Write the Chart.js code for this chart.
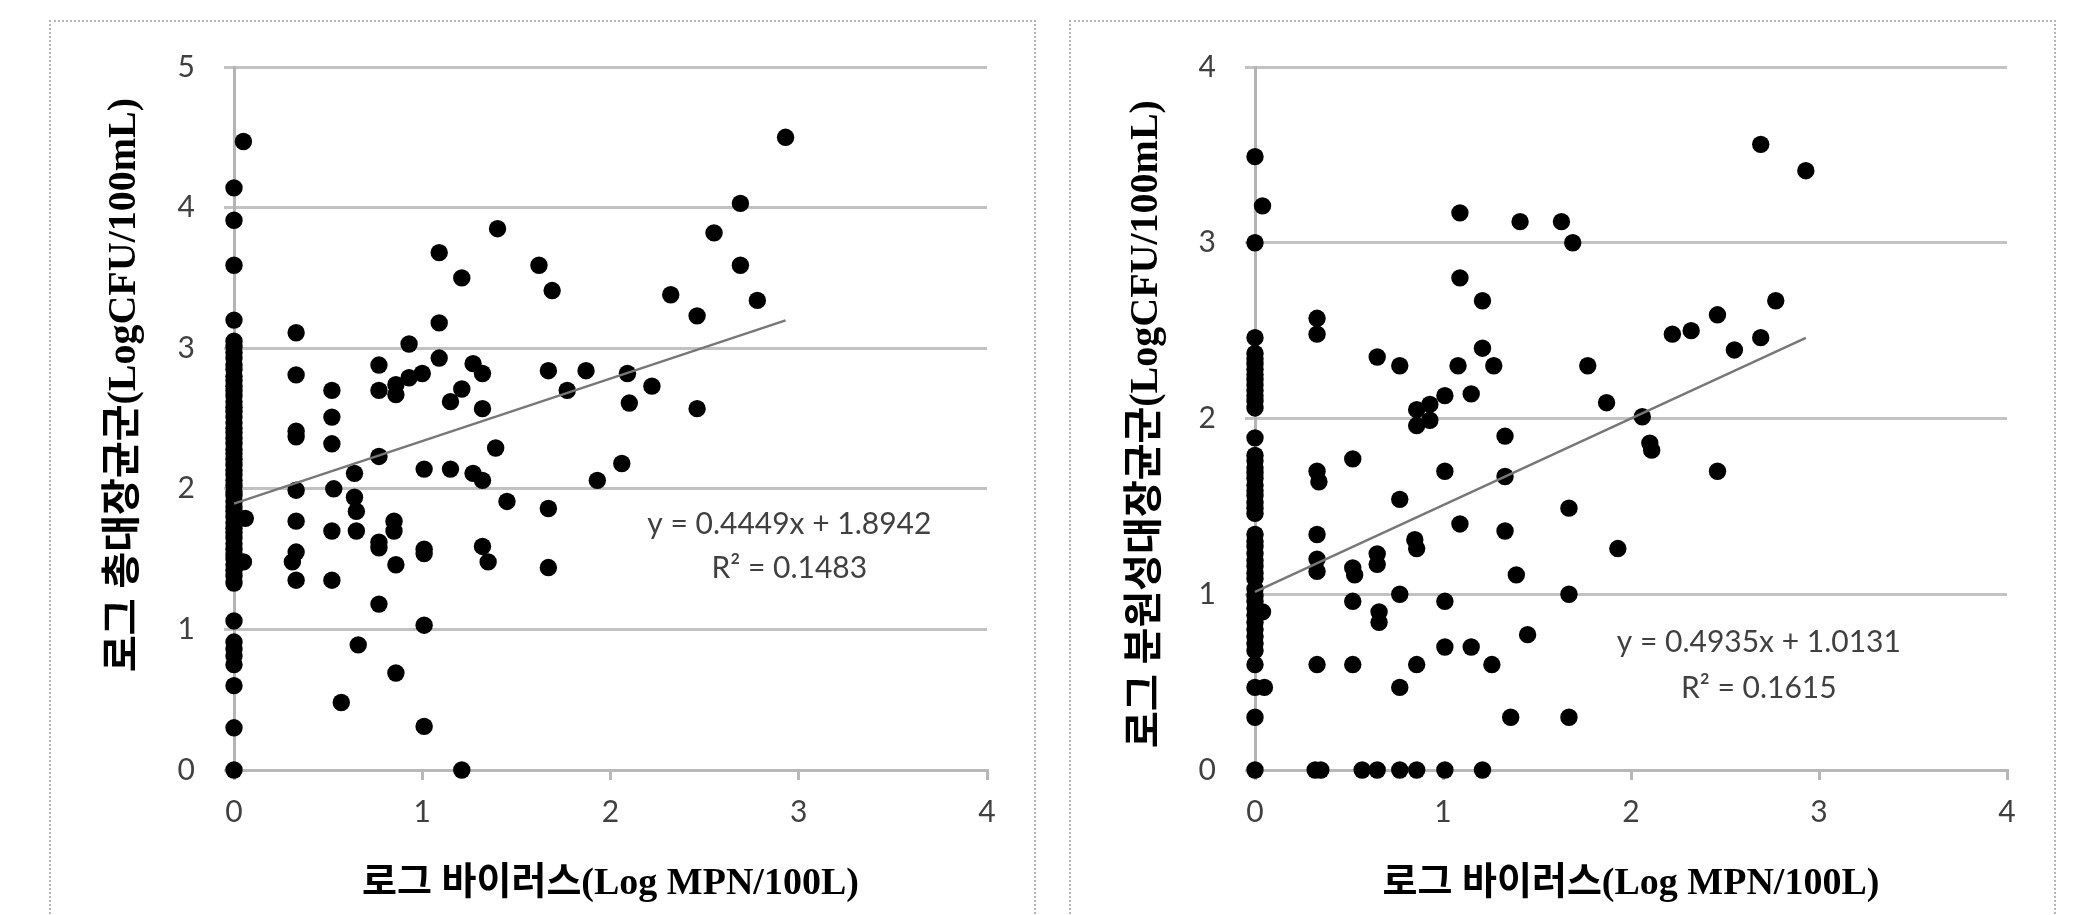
<!DOCTYPE html>
<html>
<head>
<meta charset="utf-8">
<script src="https://cdn.jsdelivr.net/npm/chart.js@4.4.1/dist/chart.umd.min.js"></script>
<style>
  html, body { margin: 0; padding: 0; background: #fff; width: 2082px; height: 915px; overflow: hidden; }
  .frame { position: absolute; top: 20px; width: 987px; height: 930px; border: 2px dotted #b4b4b4; box-sizing: border-box; }
  canvas { position: absolute; top: 20px; }
</style>
</head>
<body>
<div class="frame" style="left:49px"></div>
<div class="frame" style="left:1069px"></div>
<canvas id="totalChart" width="987" height="895" style="left:49px"></canvas>
<canvas id="fecalChart" width="987" height="895" style="left:1069px"></canvas>
<script>
// tick labels
const xTickLabels = ['0', '1', '2', '3', '4'];
const totalYTickLabels = ['0', '1', '2', '3', '4', '5'];
const fecalYTickLabels = ['0', '1', '2', '3', '4'];

// titles
const xTitle = '로그 바이러스(Log MPN/100L)';
const totalYTitle = '로그 총대장균군(LogCFU/100mL)';
const fecalYTitle = '로그 분원성대장균군(LogCFU/100mL)';

// trendlines: [slope, intercept]
const totalFit = [0.4449, 1.8942];
const fecalFit = [0.4935, 1.0131];
const totalFitText = ['y = 0.4449x + 1.8942', 'R² = 0.1483'];
const fecalFitText = ['y = 0.4935x + 1.0131', 'R² = 0.1615'];

// [log virus, log total coliform]
const totalPoints = [
  [0,4.14],[0,3.91],[0,3.59],[0,3.20],[0,3.05],[0,3.01],[0,2.97],[0,2.93],[0,2.88],[0,2.85],
  [0,2.80],[0,2.77],[0,2.73],[0,2.70],[0,2.66],[0,2.62],[0,2.58],[0,2.55],[0,2.51],[0,2.47],
  [0,2.43],[0,2.40],[0,2.36],[0,2.32],[0,2.28],[0,2.25],[0,2.21],[0,2.17],[0,2.13],[0,2.10],
  [0,2.06],[0,2.02],[0,1.98],[0,1.95],[0,1.91],[0,1.87],[0,1.84],[0,1.80],[0,1.76],[0,1.72],
  [0,1.69],[0,1.65],[0,1.61],[0,1.57],[0,1.53],[0,1.50],[0,1.46],[0,1.42],[0,1.38],[0,1.33],
  [0,1.06],[0,0.91],[0,0.86],[0,0.81],[0,0.75],[0,0.60],[0,0.30],[0,0],
  [0.05,4.47],[0.06,1.79],[0.05,1.48],
  [0.33,3.11],[0.33,2.81],[0.33,2.41],[0.33,2.37],[0.33,1.99],[0.33,1.77],[0.33,1.55],[0.31,1.48],[0.33,1.35],
  [0.52,2.70],[0.52,2.51],[0.52,2.32],[0.53,2.00],[0.52,1.70],[0.52,1.35],
  [0.57,0.48],
  [0.64,2.11],[0.64,1.94],[0.65,1.84],[0.65,1.70],[0.66,0.89],
  [0.77,2.88],[0.77,2.70],[0.77,2.23],[0.77,1.62],[0.77,1.58],[0.77,1.18],
  [0.86,2.74],[0.86,2.67],[0.85,1.77],[0.85,1.70],[0.86,1.46],[0.86,0.69],
  [0.93,3.03],[0.93,2.79],
  [1.00,2.82],[1.01,2.14],[1.01,1.57],[1.01,1.54],[1.01,1.03],[1.01,0.31],
  [1.09,3.68],[1.09,3.18],[1.09,2.93],
  [1.15,2.62],[1.15,2.14],
  [1.21,3.50],[1.21,2.71],[1.21,0],
  [1.27,2.89],[1.27,2.11],[1.32,2.82],[1.32,2.57],[1.32,2.06],[1.32,1.59],[1.35,1.48],
  [1.40,3.85],[1.39,2.29],[1.45,1.91],
  [1.62,3.59],[1.69,3.41],[1.67,2.84],[1.67,1.86],[1.67,1.44],
  [1.77,2.70],[1.87,2.84],[1.93,2.06],
  [2.06,2.18],[2.09,2.82],[2.10,2.61],[2.22,2.73],[2.32,3.38],[2.46,3.23],[2.46,2.57],
  [2.55,3.82],[2.69,4.03],[2.69,3.59],[2.78,3.34],[2.93,4.50]
];

// [log virus, log fecal coliform]
const fecalPoints = [
  [0,3.49],[0,3.00],[0,2.46],[0,2.37],[0,2.34],[0,2.31],[0,2.28],[0,2.25],[0,2.22],[0,2.19],
  [0,2.16],[0,2.13],[0,2.10],[0,2.06],[0,1.89],[0,1.79],[0,1.76],[0,1.72],[0,1.69],[0,1.66],
  [0,1.62],[0,1.59],[0,1.56],[0,1.52],[0,1.49],[0,1.46],[0,1.34],[0,1.30],[0,1.27],[0,1.23],
  [0,1.19],[0,1.16],[0,1.12],[0,1.09],[0,1.03],[0,0.99],[0,0.96],[0,0.92],[0,0.88],[0,0.84],
  [0,0.80],[0,0.76],[0,0.72],[0,0.68],[0,0.60],[0,0.47],[0,0.30],[0,0],
  [0.04,3.21],[0.04,0.90],[0.05,0.47],
  [0.33,2.57],[0.33,2.48],[0.33,1.70],[0.34,1.64],[0.33,1.34],[0.33,1.20],[0.33,1.13],[0.33,0.60],[0.32,0],[0.35,0],
  [0.52,1.77],[0.52,1.15],[0.53,1.11],[0.52,0.96],[0.52,0.60],[0.57,0],
  [0.65,2.35],[0.65,1.23],[0.65,1.17],[0.66,0.90],[0.66,0.84],[0.65,0],
  [0.77,2.30],[0.77,1.54],[0.77,1.00],[0.77,0.47],[0.77,0],
  [0.86,2.05],[0.86,1.96],[0.93,2.08],[0.93,1.99],[0.85,1.31],[0.86,1.26],[0.86,0.60],[0.86,0],
  [1.01,2.13],[1.01,1.70],[1.01,0.96],[1.01,0.70],[1.01,0],
  [1.09,3.17],[1.09,2.80],[1.08,2.30],[1.09,1.40],
  [1.15,2.14],[1.15,0.70],
  [1.21,2.67],[1.21,2.40],[1.27,2.30],[1.26,0.60],[1.21,0],
  [1.33,1.90],[1.33,1.67],[1.33,1.36],[1.36,0.30],[1.39,1.11],[1.41,3.12],[1.45,0.77],
  [1.63,3.12],[1.69,3.00],[1.67,1.49],[1.67,1.00],[1.67,0.30],
  [1.77,2.30],[1.87,2.09],[1.93,1.26],
  [2.06,2.01],[2.10,1.86],[2.11,1.82],
  [2.22,2.48],[2.32,2.50],[2.46,2.59],[2.46,1.70],[2.55,2.39],[2.69,2.46],[2.69,3.56],[2.77,2.67],[2.93,3.41]
];

const tickFont = { family: 'Lato', size: 30 };
const tickColor = '#404040';

// equation, R² and axis titles are drawn here
function textPlugin(t) {
  return {
    id: 'chartText',
    afterDraw(chart) {
      const { ctx, chartArea, scales } = chart;
      ctx.save();
      ctx.textAlign = 'center';
      ctx.textBaseline = 'middle';

      ctx.fillStyle = '#404040';
      ctx.font = '30px Lato';
      const ex = scales.x.getPixelForValue(t.fitAt[0]);
      const ey = scales.y.getPixelForValue(t.fitAt[1]);
      t.fitText.forEach((s, i) => ctx.fillText(s, ex, ey + i * t.lineGap));

      ctx.fillStyle = '#000';
      ctx.font = 'bold 38px "Liberation Serif", "Noto Sans CJK KR"';
      ctx.fillText(xTitle, (chartArea.left + chartArea.right) / 2, t.xTitleY);

      ctx.translate(t.yTitleAt[0], t.yTitleAt[1]);
      ctx.rotate(-Math.PI / 2);
      ctx.font = 'bold 40px "Liberation Serif", "Noto Sans CJK KR"';
      ctx.fillText(t.yTitle, 0, 0);
      ctx.restore();
    }
  };
}

function makeChart(id, points, fit, yLabels, box, text) {
  const xEnd = Math.max(...points.map(p => p[0]));
  return new Chart(document.getElementById(id), {
    type: 'scatter',
    data: {
      datasets: [
        {
          type: 'line',
          data: [{ x: 0, y: fit[1] }, { x: xEnd, y: fit[0] * xEnd + fit[1] }],
          borderColor: '#777',
          borderWidth: 2.5,
          pointRadius: 0,
          order: 0,
          clip: false
        },
        {
          data: points.map(p => ({ x: p[0], y: p[1] })),
          backgroundColor: '#000',
          borderColor: '#000',
          pointRadius: 8.7,
          pointBorderWidth: 0,
          order: 1,
          clip: false
        }
      ]
    },
    options: {
      responsive: false,
      animation: false,
      devicePixelRatio: 1,
      layout: { padding: { top: box.top, right: box.right, left: 0, bottom: 0 } },
      plugins: { legend: { display: false }, tooltip: { enabled: false } },
      scales: {
        x: {
          type: 'linear',
          min: 0,
          max: 4,
          afterFit: s => { s.height = box.xAxisHeight; },
          ticks: { stepSize: 1, padding: 14, color: tickColor, font: tickFont, callback: v => xTickLabels[v] },
          grid: { drawOnChartArea: false, drawTicks: true, tickLength: 10, color: '#b8b8b8', lineWidth: 3 },
          border: { display: true, color: '#b8b8b8', width: 3 }
        },
        y: {
          min: 0,
          max: yLabels.length - 1,
          afterFit: s => { s.width = box.yAxisWidth; },
          ticks: { stepSize: 1, padding: 29, color: tickColor, font: tickFont, callback: v => yLabels[v] },
          grid: { color: '#c2c2c2', lineWidth: 3, tickLength: 10 },
          border: { display: true, color: '#b4b4b4', width: 3 }
        }
      }
    },
    plugins: [textPlugin(text)]
  });
}

makeChart('totalChart', totalPoints, totalFit, totalYTickLabels,
  { top: 45, right: 49, yAxisWidth: 185, xAxisHeight: 145 },
  { fitText: totalFitText, fitAt: [2.95, 1.745], lineGap: 44, xTitleY: 864, yTitleAt: [76, 365], yTitle: totalYTitle });

makeChart('fecalChart', fecalPoints, fecalFit, fecalYTickLabels,
  { top: 46, right: 49, yAxisWidth: 186, xAxisHeight: 145 },
  { fitText: fecalFitText, fitAt: [2.68, 0.727], lineGap: 46, xTitleY: 864, yTitleAt: [78, 404], yTitle: fecalYTitle });
</script>
</body>
</html>
